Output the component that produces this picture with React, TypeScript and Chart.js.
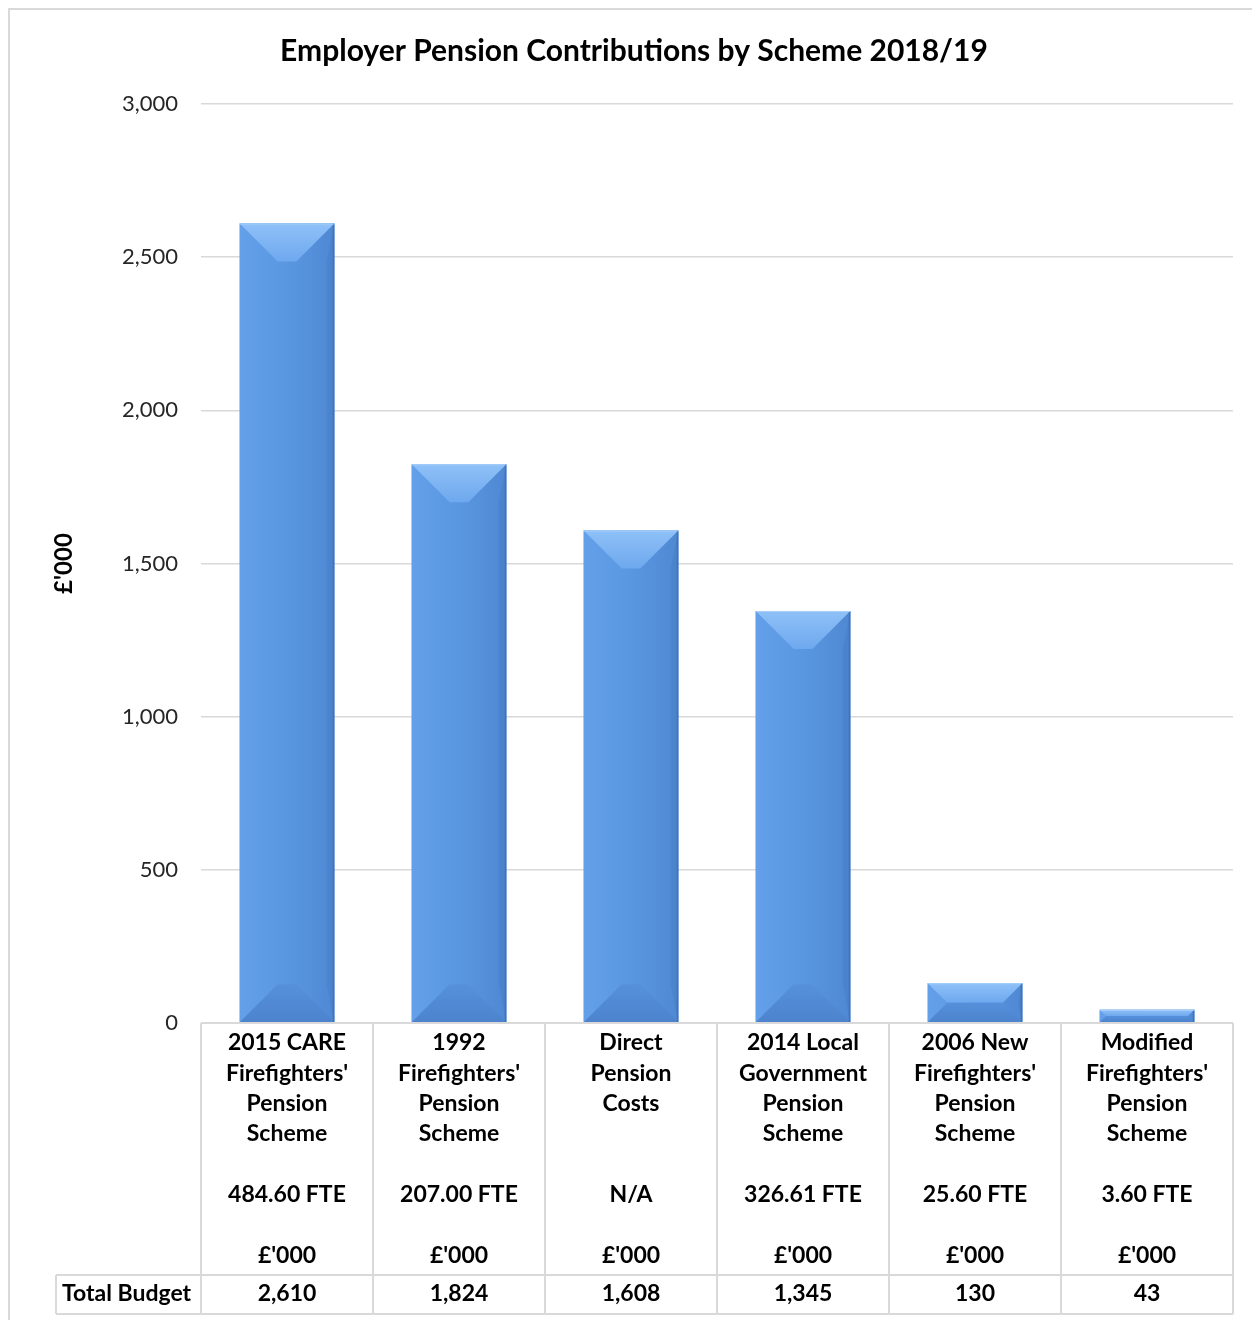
import { useEffect, useRef } from "react";
import { Chart, registerables } from "chart.js";

Chart.register(...registerables);

const chartTitle = "Employer Pension Contributions by Scheme 2018/19";
const yAxisTitle = "£'000";
const categoryLines: string[][] = [
  ["2015 CARE", "Firefighters'", "Pension", "Scheme"],
  ["1992", "Firefighters'", "Pension", "Scheme"],
  ["Direct", "Pension", "Costs"],
  ["2014 Local", "Government", "Pension", "Scheme"],
  ["2006 New", "Firefighters'", "Pension", "Scheme"],
  ["Modified", "Firefighters'", "Pension", "Scheme"],
];
const fteLabels = ["484.60 FTE", "207.00 FTE", "N/A", "326.61 FTE", "25.60 FTE", "3.60 FTE"];
const unitLabels = ["£'000", "£'000", "£'000", "£'000", "£'000", "£'000"];
const totalBudget = [2610, 1824, 1608, 1345, 130, 43];
const rowLabel = "Total Budget";
const yMin = 0;
const yMax = 3000;
const yStep = 500;

const FONT = "Lato, 'Noto Sans', 'DejaVu Sans', sans-serif";
const GRID = "#d9d9d9";

const fmt = (v: number) => v.toLocaleString("en-US");

export default function App() {
  const ref = useRef<HTMLCanvasElement>(null);

  useEffect(() => {
    document.body.style.overflow = "hidden";
    const canvas = ref.current!;

    const excelPlugin = {
      id: "excelLook",
      afterDatasetsDraw(chart: any) {
        const ctx: CanvasRenderingContext2D = chart.ctx;
        const meta = chart.getDatasetMeta(0);
        ctx.save();
        meta.data.forEach((el: any) => {
          const { x, y, base, width } = el.getProps(["x", "y", "base", "width"], true);
          const l = x - width / 2;
          const r = x + width / 2;
          const t = Math.min(y, base);
          const b = Math.max(y, base);
          const h = b - t;
          const d = Math.min(38, h / 2, width / 2);
          // body
          const g = ctx.createLinearGradient(l, 0, r, 0);
          g.addColorStop(0, "#63a0e9");
          g.addColorStop(0.5, "#5a97e1");
          g.addColorStop(1, "#4f88d3");
          ctx.fillStyle = g;
          ctx.fillRect(l, t, width, h);
          // top bevel
          const gt = ctx.createLinearGradient(0, t, 0, t + d);
          gt.addColorStop(0, "#8fc1f8");
          gt.addColorStop(1, "#6ea8ee");
          ctx.fillStyle = gt;
          ctx.beginPath();
          ctx.moveTo(l, t);
          ctx.lineTo(r, t);
          ctx.lineTo(r - d, t + d);
          ctx.lineTo(l + d, t + d);
          ctx.closePath();
          ctx.fill();
          // bottom bevel
          const gb = ctx.createLinearGradient(0, b - d, 0, b);
          gb.addColorStop(0, "#5690db");
          gb.addColorStop(1, "#4c83cc");
          ctx.fillStyle = gb;
          ctx.beginPath();
          ctx.moveTo(l, b);
          ctx.lineTo(r, b);
          ctx.lineTo(r - d, b - d);
          ctx.lineTo(l + d, b - d);
          ctx.closePath();
          ctx.fill();
          // right side slightly darker
          ctx.fillStyle = "rgba(40,80,150,0.10)";
          ctx.beginPath();
          ctx.moveTo(r, t);
          ctx.lineTo(r - d * 0.2, t + d);
          ctx.lineTo(r - d * 0.2, b - d);
          ctx.lineTo(r, b);
          ctx.closePath();
          ctx.fill();
          // edges
          ctx.strokeStyle = "#3f72b7";
          ctx.lineWidth = 1.5;
          ctx.beginPath();
          ctx.moveTo(r - 0.75, t);
          ctx.lineTo(r - 0.75, b);
          ctx.stroke();
          ctx.strokeStyle = "#a9d0fb";
          ctx.lineWidth = 1;
          ctx.beginPath();
          ctx.moveTo(l, t + 0.5);
          ctx.lineTo(r, t + 0.5);
          ctx.stroke();
        });
        ctx.restore();
      },
      afterDraw(chart: any) {
        const ctx: CanvasRenderingContext2D = chart.ctx;
        const area = chart.chartArea;
        const xs = chart.scales.x;
        const n = totalBudget.length;
        const bottom = area.bottom;
        const colW = (area.right - area.left) / n;
        ctx.save();

        // title
        ctx.fillStyle = "#000";
        ctx.font = `bold 30px ${FONT}`;
        ctx.textAlign = "center";
        ctx.textBaseline = "middle";
        ctx.fillText(chartTitle, chart.width / 2, 41);

        // y axis title
        ctx.save();
        ctx.translate(54, (area.top + area.bottom) / 2);
        ctx.rotate(-Math.PI / 2);
        ctx.font = `bold 24px ${FONT}`;
        ctx.fillText(yAxisTitle, 0, 0);
        ctx.restore();

        // table lines
        const tableLeft = 46;
        const sepY = bottom + 252;
        const tableBottom = bottom + 291;
        ctx.strokeStyle = GRID;
        ctx.lineWidth = 2;
        ctx.beginPath();
        ctx.moveTo(area.left, bottom);
        ctx.lineTo(area.right, bottom);
        ctx.moveTo(tableLeft, sepY);
        ctx.lineTo(area.right, sepY);
        ctx.moveTo(tableLeft, tableBottom);
        ctx.lineTo(area.right, tableBottom);
        ctx.moveTo(tableLeft, sepY);
        ctx.lineTo(tableLeft, tableBottom);
        for (let i = 0; i <= n; i++) {
          const vx = area.left + i * colW;
          ctx.moveTo(vx, bottom);
          ctx.lineTo(vx, tableBottom);
        }
        ctx.stroke();

        // table text
        ctx.fillStyle = "#000";
        ctx.font = `bold 23px ${FONT}`;
        ctx.textAlign = "center";
        ctx.textBaseline = "middle";
        const lh = 30.3;
        const y0 = bottom + 20;
        totalBudget.forEach((v, i) => {
          const cx = xs.getPixelForValue(i);
          categoryLines[i].forEach((line, k) => ctx.fillText(line, cx, y0 + k * lh));
          ctx.fillText(fteLabels[i], cx, y0 + 5 * lh);
          ctx.fillText(unitLabels[i], cx, y0 + 7 * lh);
          ctx.fillText(fmt(v), cx, bottom + 271);
        });
        ctx.textAlign = "left";
        ctx.fillText(rowLabel, 52, bottom + 271);
        ctx.restore();
      },
    };

    const chart = new Chart(canvas, {
      type: "bar",
      data: {
        labels: categoryLines.map((c) => c.join(" ")),
        datasets: [
          {
            data: totalBudget,
            backgroundColor: "#5a97e1",
            borderWidth: 0,
            barPercentage: 0.55,
            categoryPercentage: 1,
          },
        ],
      },
      options: {
        responsive: false,
        animation: false,
        layout: { padding: { left: 10, right: 25, top: 94, bottom: 297 } },
        plugins: {
          legend: { display: false },
          tooltip: { enabled: false },
          title: { display: false },
        },
        scales: {
          x: { display: false },
          y: {
            min: yMin,
            max: yMax,
            ticks: {
              stepSize: yStep,
              padding: 23,
              color: "#262626",
              font: { family: FONT, size: 22 },
              callback: (v: any) => fmt(Number(v)),
            },
            grid: { color: GRID, lineWidth: 1.5, drawTicks: false },
            border: { display: false },
            afterFit: (s: any) => {
              s.width = 181;
            },
          },
        },
      },
      plugins: [excelPlugin],
    });
    return () => chart.destroy();
  }, []);

  return (
    <div
      style={{
        borderTop: "2px solid #d9d9d9",
        borderLeft: "2px solid #d9d9d9",
        borderRight: "2px solid #d9d9d9",
        width: 1248,
        height: 1310,
        background: "#fff",
      }}
    >
      <canvas ref={ref} width={1248} height={1310} style={{ display: "block" }} />
    </div>
  );
}
